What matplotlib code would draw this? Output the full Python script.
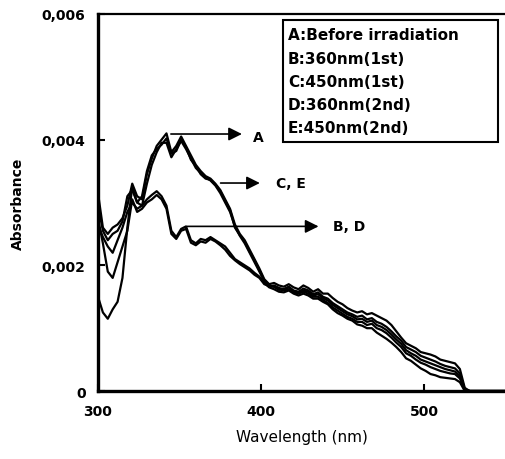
import numpy as np
import matplotlib
matplotlib.use('Agg')
import matplotlib.pyplot as plt
from matplotlib.patches import Rectangle

# wavelength grid (nm), 3 nm steps
wl = np.arange(300, 550, 3)

# absorbance values, in units of 1e-3
abs_A = [3.15, 2.60, 2.50, 2.60, 2.65, 2.75, 2.95, 3.30, 3.10, 3.05,
         3.45, 3.70, 3.90, 4.00, 4.10, 3.80, 3.90, 4.05, 3.90, 3.75,
         3.60, 3.50, 3.42, 3.38, 3.30, 3.20, 3.05, 2.90, 2.65, 2.50,
         2.40, 2.25, 2.10, 1.95, 1.78, 1.70, 1.72, 1.68, 1.66, 1.70,
         1.65, 1.62, 1.68, 1.64, 1.58, 1.62, 1.55, 1.55, 1.48, 1.42,
         1.38, 1.32, 1.28, 1.25, 1.27, 1.22, 1.24, 1.20, 1.16, 1.12,
         1.05, 0.95, 0.85, 0.76, 0.72, 0.68, 0.62, 0.60, 0.58, 0.55,
         0.50, 0.48, 0.46, 0.44, 0.35, 0.05, 0, 0, 0, 0,
         0, 0, 0, 0]
abs_B = [1.50, 1.25, 1.15, 1.30, 1.42, 1.80, 2.60, 3.25, 3.00, 2.95,
         3.05, 3.12, 3.18, 3.10, 2.95, 2.55, 2.45, 2.58, 2.62, 2.40,
         2.35, 2.42, 2.40, 2.45, 2.40, 2.35, 2.30, 2.20, 2.10, 2.05,
         2.00, 1.95, 1.88, 1.82, 1.72, 1.65, 1.62, 1.58, 1.57, 1.60,
         1.55, 1.52, 1.55, 1.52, 1.47, 1.47, 1.42, 1.38, 1.30, 1.24,
         1.20, 1.15, 1.12, 1.06, 1.04, 1.00, 1.00, 0.93, 0.88, 0.83,
         0.77, 0.70, 0.62, 0.52, 0.48, 0.42, 0.36, 0.32, 0.27, 0.25,
         0.22, 0.21, 0.20, 0.19, 0.14, 0, 0, 0, 0, 0,
         0, 0, 0, 0]
abs_C = [2.95, 2.55, 2.40, 2.50, 2.55, 2.70, 3.10, 3.20, 3.00, 3.10,
         3.50, 3.75, 3.85, 3.92, 4.02, 3.78, 3.82, 4.00, 3.88, 3.68,
         3.58, 3.45, 3.38, 3.36, 3.28, 3.18, 3.02, 2.88, 2.60, 2.48,
         2.38, 2.22, 2.08, 1.92, 1.76, 1.68, 1.66, 1.62, 1.60, 1.62,
         1.57, 1.55, 1.58, 1.55, 1.50, 1.50, 1.45, 1.40, 1.33, 1.28,
         1.23, 1.18, 1.15, 1.10, 1.10, 1.05, 1.07, 1.00, 0.97, 0.92,
         0.85, 0.77, 0.70, 0.60, 0.56, 0.50, 0.45, 0.42, 0.38, 0.35,
         0.32, 0.30, 0.28, 0.27, 0.20, 0.02, 0, 0, 0, 0,
         0, 0, 0, 0]
abs_D = [2.75, 2.35, 1.90, 1.80, 2.05, 2.30, 2.55, 3.05, 2.85, 2.90,
         3.00, 3.05, 3.12, 3.05, 2.90, 2.50, 2.42, 2.55, 2.58, 2.36,
         2.32, 2.38, 2.36, 2.42, 2.38, 2.32, 2.25, 2.15, 2.08, 2.02,
         1.97, 1.92, 1.85, 1.80, 1.70, 1.67, 1.66, 1.61, 1.62, 1.65,
         1.58, 1.56, 1.60, 1.58, 1.52, 1.54, 1.48, 1.44, 1.37, 1.32,
         1.27, 1.22, 1.19, 1.14, 1.15, 1.10, 1.12, 1.05, 1.02, 0.97,
         0.90, 0.82, 0.75, 0.65, 0.60, 0.56, 0.50, 0.47, 0.44, 0.41,
         0.38, 0.35, 0.33, 0.31, 0.24, 0.02, 0, 0, 0, 0,
         0, 0, 0, 0]
abs_E = [2.65, 2.45, 2.30, 2.20, 2.40, 2.60, 2.85, 3.00, 2.90, 2.95,
         3.30, 3.60, 3.80, 3.95, 3.95, 3.72, 3.85, 3.98, 3.85, 3.70,
         3.55, 3.47, 3.40, 3.35, 3.27, 3.15, 3.00, 2.85, 2.62, 2.47,
         2.35, 2.20, 2.05, 1.90, 1.75, 1.66, 1.68, 1.64, 1.62, 1.66,
         1.60, 1.58, 1.63, 1.60, 1.54, 1.57, 1.50, 1.47, 1.40, 1.35,
         1.30, 1.25, 1.22, 1.18, 1.20, 1.14, 1.16, 1.10, 1.07, 1.02,
         0.95, 0.87, 0.80, 0.70, 0.66, 0.62, 0.56, 0.53, 0.50, 0.47,
         0.43, 0.40, 0.38, 0.36, 0.28, 0.03, 0, 0, 0, 0,
         0, 0, 0, 0]

legend_lines = ['A:Before irradiation', 'B:360nm(1st)', 'C:450nm(1st)',
                'D:360nm(2nd)', 'E:450nm(2nd)']
y_ticks = [0, 0.002, 0.004, 0.006]
y_ticklabels = ['0', '0,002', '0,004', '0,006']
x_ticks = [300, 400, 500]

fig = plt.figure(figsize=(5.06, 4.60), dpi=100)
ax = fig.add_axes([0.1937, 0.1478, 0.8063, 0.8196])

for s in [abs_A, abs_B, abs_C, abs_D, abs_E]:
    ax.plot(wl, np.array(s) * 1e-3, color='black', lw=1.6)

ax.set_xlim(300, 550.3)
ax.set_ylim(0, 0.006)
ax.set_xticks(x_ticks)
ax.set_yticks(y_ticks)
ax.set_yticklabels(y_ticklabels)
ax.tick_params(direction='in', length=5, width=1.5, pad=9)
for lab in ax.get_xticklabels() + ax.get_yticklabels():
    lab.set_fontweight('bold')
    lab.set_fontsize(10)

ax.spines['right'].set_visible(False)
ax.spines['left'].set_linewidth(2.4)
ax.spines['bottom'].set_linewidth(2.4)
ax.spines['top'].set_linewidth(1.6)

ax.set_xlabel('Wavelength (nm)', fontsize=11, labelpad=8)
ax.set_ylabel('Absorbance', fontsize=10, fontweight='bold', labelpad=12)

# arrows pointing to the curve groups
arrow = dict(arrowstyle='-|>', mutation_scale=20, lw=1.2, color='black')
ax.annotate('', xy=(390, 0.00409), xytext=(343, 0.00409), arrowprops=arrow)
ax.text(395, 0.00405, 'A', fontsize=10, fontweight='bold', va='center')
ax.annotate('', xy=(401, 0.00331), xytext=(373.5, 0.00331), arrowprops=arrow)
ax.text(409, 0.00331, 'C, E', fontsize=10, fontweight='bold', va='center')
ax.annotate('', xy=(437, 0.00262), xytext=(353, 0.00262), arrowprops=arrow)
ax.text(444, 0.00262, 'B, D', fontsize=10, fontweight='bold', va='center')

# legend box
fig.patches.append(Rectangle((0.5593, 0.6891), 0.4249, 0.2652, transform=fig.transFigure,
                             fill=False, edgecolor='black', lw=1.5))
ys = [0.9239, 0.8717, 0.8217, 0.7717, 0.7217]
for t, y in zip(legend_lines, ys):
    fig.text(0.569, y, t, fontsize=11, fontweight='bold', va='center')

fig.savefig('out.png', dpi=100)
